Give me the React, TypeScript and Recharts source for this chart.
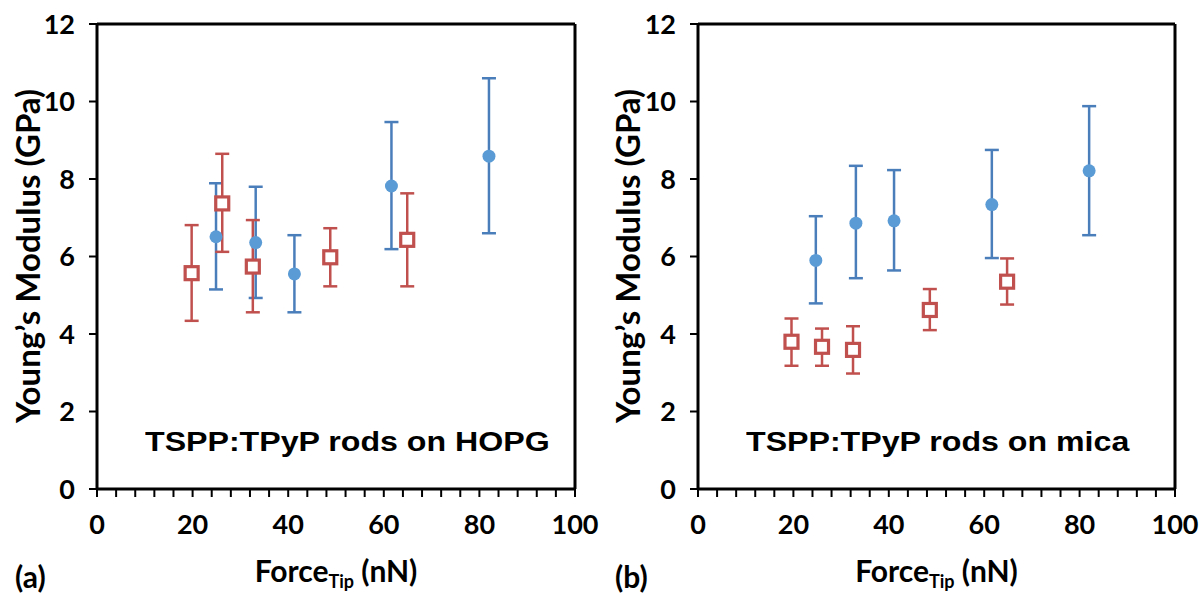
import {
  ScatterChart,
  Scatter,
  XAxis,
  YAxis,
  ErrorBar,
  ReferenceLine,
} from "recharts";

// x ticks every 4 nN, labelled every 20
const xTicks = [0, 4, 8, 12, 16, 20, 24, 28, 32, 36, 40, 44, 48, 52, 56, 60, 64, 68, 72, 76, 80, 84, 88, 92, 96, 100];
const yTicks = [0, 2, 4, 6, 8, 10, 12];

// (a) HOPG
const blueAForce = [24.9, 33.2, 41.3, 61.6, 82.0];
const blueAMod = [6.51, 6.36, 5.55, 7.82, 8.59];
const blueAHigh = [7.89, 7.8, 6.55, 9.47, 10.6];
const blueALow = [5.15, 4.93, 4.56, 6.19, 6.6];

const redAForce = [19.8, 26.2, 32.6, 48.8, 64.9];
const redAMod = [5.57, 7.37, 5.74, 5.98, 6.43];
const redAHigh = [6.81, 8.65, 6.94, 6.73, 7.63];
const redALow = [4.34, 6.12, 4.56, 5.23, 5.23];

// (b) mica
const blueBForce = [24.7, 33.1, 41.1, 61.6, 82.0];
const blueBMod = [5.9, 6.86, 6.92, 7.34, 8.21];
const blueBHigh = [7.04, 8.34, 8.23, 8.75, 9.88];
const blueBLow = [4.79, 5.44, 5.64, 5.96, 6.55];

const redBForce = [19.6, 26.0, 32.5, 48.6, 64.8];
const redBMod = [3.8, 3.67, 3.59, 4.62, 5.35];
const redBHigh = [4.4, 4.14, 4.2, 5.16, 5.95];
const redBLow = [3.18, 3.18, 2.98, 4.1, 4.76];

interface Pt {
  x: number;
  y: number;
  err: [number, number];
}

const build = (xs: number[], ys: number[], hi: number[], lo: number[]): Pt[] =>
  xs.map((x, i) => ({ x, y: ys[i], err: [ys[i] - lo[i], hi[i] - ys[i]] }));

const AXIS_FONT = "Lato, 'Open Sans', sans-serif";
const BLUE = "#5b9bd5";
const BLUE_BAR = "#4a7ebb";
const RED = "#c0504d";

const XTick = (props: any) => {
  const { x, y, payload } = props;
  if (payload.value % 20 !== 0) return <g />;
  return (
    <text x={x} y={y + 35} textAnchor="middle" fontFamily={AXIS_FONT} fontWeight={700} fontSize={27} fill="#000">
      {payload.value}
    </text>
  );
};

const YTick = (props: any) => {
  const { x, y, payload } = props;
  return (
    <text x={x - 12} y={y} dy="0.36em" textAnchor="end" fontFamily={AXIS_FONT} fontWeight={700} fontSize={27} fill="#000">
      {payload.value}
    </text>
  );
};

const Square = (props: any) => {
  const { cx, cy } = props;
  return <rect x={cx - 6.5} y={cy - 6.5} width={13} height={13} fill="#fff" stroke={RED} strokeWidth={3.2} />;
};

const Dot = (props: any) => {
  const { cx, cy } = props;
  return <circle cx={cx} cy={cy} r={6.5} fill={BLUE} />;
};

interface PanelProps {
  blue: Pt[];
  red: Pt[];
  yAxisWidth: number;
  right: number;
  width: number;
}

const Panel: React.FC<PanelProps> = ({ blue, red, yAxisWidth, right, width }) => (
  <ScatterChart width={width} height={595} margin={{ top: 24, right, bottom: 76, left: 0 }}>
    <XAxis
      type="number"
      dataKey="x"
      domain={[0, 100]}
      ticks={xTicks}
      interval={0}
      height={30}
      tick={<XTick />}
      tickSize={8}
      tickLine={{ stroke: "#000", strokeWidth: 2 }}
      axisLine={{ stroke: "#000", strokeWidth: 3 }}
      allowDataOverflow
    />
    <YAxis
      type="number"
      dataKey="y"
      domain={[0, 12]}
      ticks={yTicks}
      interval={0}
      width={yAxisWidth}
      tick={<YTick />}
      tickSize={8}
      tickLine={{ stroke: "#000", strokeWidth: 2 }}
      axisLine={{ stroke: "#000", strokeWidth: 3 }}
      allowDataOverflow
    />
    <ReferenceLine y={12} stroke="#000" strokeWidth={3} />
    <ReferenceLine x={100} stroke="#000" strokeWidth={3} />
    <Scatter data={blue} shape={<Dot />} isAnimationActive={false}>
      <ErrorBar dataKey="err" direction="y" width={7} stroke={BLUE_BAR} strokeWidth={2.5} />
    </Scatter>
    <Scatter data={red} shape={<Square />} isAnimationActive={false}>
      <ErrorBar dataKey="err" direction="y" width={7} stroke={RED} strokeWidth={2.5} />
    </Scatter>
  </ScatterChart>
);

const txt = (extra: React.CSSProperties): React.CSSProperties => ({
  position: "absolute",
  whiteSpace: "nowrap",
  fontWeight: 700,
  color: "#000",
  lineHeight: 1,
  ...extra,
});

const PanelText: React.FC<{ offset: number; plotLeft: number; plotRight: number; note: string; tag: string }> = ({
  offset,
  plotLeft,
  plotRight,
  note,
  tag,
}) => (
  <>
    <div
      style={txt({
        left: offset + 27,
        top: 256,
        fontFamily: AXIS_FONT,
        fontSize: 33,
        transform: "translate(-50%, -50%) rotate(-90deg)",
      })}
    >
      Young’s Modulus (GPa)
    </div>
    <div
      style={txt({
        left: (plotLeft + plotRight) / 2,
        top: 555,
        fontFamily: AXIS_FONT,
        fontSize: 30,
        transform: "translateX(-50%)",
      })}
    >
      Force<sub style={{ fontSize: 18, verticalAlign: "-6px" }}>Tip</sub> (nN)
    </div>
    <div style={txt({ left: offset + 15, top: 561, fontFamily: AXIS_FONT, fontSize: 30 })}>{tag}</div>
    <div
      style={txt({
        left: plotLeft + 48,
        top: 429,
        fontFamily: "'Liberation Sans', Arial, sans-serif",
        fontSize: 27,
        transform: "scaleX(1.19)",
        transformOrigin: "left center",
      })}
    >
      {note}
    </div>
  </>
);

export default function App() {
  const blueA = build(blueAForce, blueAMod, blueAHigh, blueALow);
  const redA = build(redAForce, redAMod, redAHigh, redALow);
  const blueB = build(blueBForce, blueBMod, blueBHigh, blueBLow);
  const redB = build(redBForce, redBMod, redBHigh, redBLow);

  return (
    <div style={{ position: "absolute", left: 0, top: 0, width: 1199, height: 595, background: "#fff" }}>
      <div style={{ position: "absolute", left: 0, top: 0 }}>
        <Panel blue={blueA} red={redA} yAxisWidth={97} right={25} width={600} />
      </div>
      <div style={{ position: "absolute", left: 600, top: 0 }}>
        <Panel blue={blueB} red={redB} yAxisWidth={98} right={24} width={599} />
      </div>
      <PanelText offset={0} plotLeft={97} plotRight={575} note="TSPP:TPyP rods on HOPG" tag="(a)" />
      <PanelText offset={600} plotLeft={698} plotRight={1175} note="TSPP:TPyP rods on mica" tag="(b)" />
    </div>
  );
}
